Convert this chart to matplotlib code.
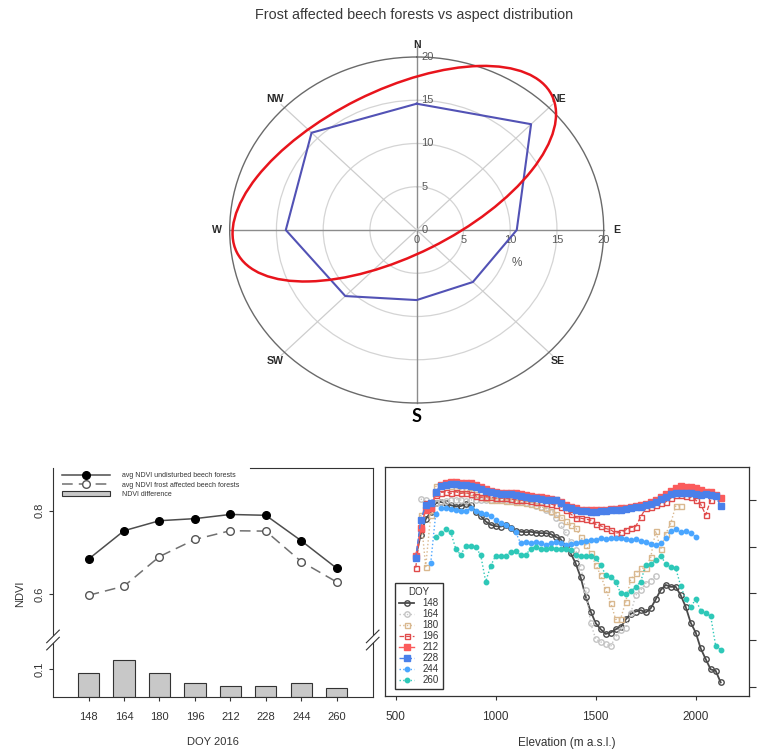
import numpy as np
import matplotlib
matplotlib.use("Agg")
import matplotlib.pyplot as plt
from matplotlib.patches import Ellipse, Patch, Polygon
from matplotlib.lines import Line2D

plt.rcParams['font.family'] = ['Liberation Sans', 'DejaVu Sans']

# ---------------- data ----------------
title_text = "Frost affected beech forests vs aspect distribution"
directions = ['N', 'NE', 'E', 'SE', 'S', 'SW', 'W', 'NW']
aspect_pct = [14.6, 17.3, 10.7, 8.5, 8.1, 10.8, 14.0, 15.9]
ring_ticks = [0, 5, 10, 15, 20]

doy = [148, 164, 180, 196, 212, 228, 244, 260]
ndvi_undisturbed = [0.684, 0.752, 0.776, 0.781, 0.791, 0.789, 0.728, 0.662]
ndvi_frost = [0.597, 0.619, 0.690, 0.731, 0.752, 0.751, 0.678, 0.629]
legend_left = ["avg NDVI undisturbed beech forests",
               "avg NDVI frost affected beech forests",
               "NDVI difference"]

elevation = [600, 625, 650, 675, 700, 725, 750, 775, 800, 825, 850, 875, 900,
             925, 950, 975, 1000, 1025, 1050, 1075, 1100, 1125, 1150, 1175,
             1200, 1225, 1250, 1275, 1300, 1325, 1350, 1375, 1400, 1425, 1450,
             1475, 1500, 1525, 1550, 1575, 1600, 1625, 1650, 1675, 1700, 1725,
             1750, 1775, 1800, 1825, 1850, 1875, 1900, 1925, 1950, 1975, 2000,
             2025, 2050, 2075, 2100, 2125]

ndvi_148 = [0.677, 0.726, 0.759, 0.774, 0.793, 0.796, 0.793, 0.789, 0.786, 0.787,
            0.791, 0.789, 0.775, 0.766, 0.754, 0.747, 0.744, 0.743, 0.746, 0.739,
            0.734, 0.732, 0.731, 0.732, 0.730, 0.729, 0.729, 0.727, 0.721, 0.716,
            0.701, 0.686, 0.664, 0.634, 0.593, 0.561, 0.536, 0.523, 0.513, 0.516,
            0.523, 0.527, 0.544, 0.556, 0.561, 0.564, 0.559, 0.568, 0.587, 0.607,
            0.618, 0.614, 0.614, 0.596, 0.571, 0.537, 0.516, 0.482, 0.459, 0.437,
            0.434, 0.409]
ndvi_164 = [0.802, 0.799, 0.793, 0.794, 0.796, 0.798, 0.799, 0.801, 0.800, 0.798,
            0.800, 0.801, 0.799, 0.800, 0.799, 0.800, 0.799, 0.799, 0.798, 0.797,
            0.796, 0.794, 0.791, 0.788, 0.784, 0.779, 0.774, 0.762, 0.746, 0.731,
            0.711, 0.693, 0.657, 0.607, 0.536, 0.502, 0.496, 0.491, 0.487, 0.507,
            0.521, 0.525, 0.557, 0.596, 0.607, 0.621, 0.627, 0.638]
ndvi_180 = [0.768, 0.657, 0.768, 0.829, 0.832, 0.832, 0.830, 0.825, 0.823, 0.821,
            0.818, 0.813, 0.807, 0.804, 0.801, 0.800, 0.799, 0.798, 0.797, 0.796,
            0.795, 0.793, 0.791, 0.789, 0.786, 0.782, 0.777, 0.771, 0.764, 0.754,
            0.746, 0.741, 0.721, 0.704, 0.686, 0.661, 0.639, 0.609, 0.580, 0.544,
            0.546, 0.582, 0.630, 0.643, 0.654, 0.654, 0.677, 0.734, 0.694, 0.727,
            0.750, 0.787, 0.788]
ndvi_196 = [0.655, 0.737, 0.793, 0.782, 0.811, 0.816, 0.818, 0.814, 0.818, 0.814,
            0.816, 0.813, 0.809, 0.806, 0.807, 0.806, 0.804, 0.804, 0.804, 0.802,
            0.801, 0.800, 0.799, 0.798, 0.796, 0.795, 0.794, 0.791, 0.789, 0.786,
            0.779, 0.770, 0.762, 0.761, 0.759, 0.757, 0.748, 0.745, 0.739, 0.736,
            0.729, 0.731, 0.736, 0.741, 0.743, 0.764, 0.782, 0.786, 0.789, 0.793,
            0.796, 0.804, 0.811, 0.811, 0.809, 0.806, 0.800, 0.791, 0.768, 0.800]
ndvi_212 = [0.679, 0.741, 0.779, 0.782, 0.814, 0.832, 0.836, 0.838, 0.838, 0.837,
            0.836, 0.836, 0.832, 0.827, 0.823, 0.820, 0.818, 0.816, 0.816, 0.816,
            0.814, 0.813, 0.811, 0.809, 0.807, 0.806, 0.804, 0.803, 0.801, 0.796,
            0.789, 0.785, 0.782, 0.779, 0.779, 0.778, 0.778, 0.778, 0.779, 0.781,
            0.781, 0.782, 0.783, 0.785, 0.787, 0.789, 0.792, 0.795, 0.800, 0.806,
            0.813, 0.820, 0.825, 0.829, 0.827, 0.827, 0.825, 0.821, 0.818, 0.818,
            0.811, 0.804]
ndvi_228 = [0.675, 0.757, 0.789, 0.793, 0.818, 0.830, 0.832, 0.834, 0.834, 0.832,
            0.832, 0.831, 0.827, 0.823, 0.820, 0.818, 0.814, 0.813, 0.813, 0.812,
            0.811, 0.809, 0.807, 0.805, 0.804, 0.802, 0.801, 0.800, 0.799, 0.794,
            0.786, 0.782, 0.779, 0.776, 0.776, 0.775, 0.775, 0.776, 0.776, 0.779,
            0.779, 0.779, 0.780, 0.782, 0.784, 0.786, 0.789, 0.791, 0.796, 0.802,
            0.807, 0.813, 0.814, 0.816, 0.816, 0.814, 0.812, 0.811, 0.813, 0.810,
            0.808, 0.787]
ndvi_244 = [0.664, 0.770, 0.782, 0.782, 0.781, 0.779, 0.777, 0.777, 0.782, 0.777,
            0.773, 0.770, 0.766, 0.757, 0.751, 0.746, 0.739, 0.731, 0.707, 0.711,
            0.707, 0.711, 0.707, 0.704, 0.707, 0.711, 0.707, 0.704, 0.705, 0.707,
            0.711, 0.712, 0.714, 0.714, 0.718, 0.716, 0.718, 0.719, 0.718, 0.716,
            0.714, 0.716, 0.712, 0.711, 0.705, 0.704, 0.707, 0.718, 0.734, 0.737,
            0.731, 0.734, 0.729, 0.721]
ndvi_260 = [0.721, 0.729, 0.738, 0.731, 0.696, 0.682, 0.702, 0.702, 0.699, 0.682,
            0.625, 0.659, 0.681, 0.680, 0.679, 0.689, 0.690, 0.682, 0.682, 0.696,
            0.700, 0.696, 0.695, 0.698, 0.695, 0.695, 0.695, 0.693, 0.682, 0.681,
            0.681, 0.679, 0.676, 0.661, 0.639, 0.636, 0.625, 0.600, 0.598, 0.604,
            0.614, 0.625, 0.661, 0.662, 0.671, 0.681, 0.663, 0.656, 0.654, 0.616,
            0.587, 0.571, 0.587, 0.563, 0.557, 0.551, 0.487, 0.479]

# (label, first elevation index, values)
doy_series = [("148", 0, ndvi_148), ("164", 1, ndvi_164), ("180", 1, ndvi_180),
              ("196", 0, ndvi_196), ("212", 0, ndvi_212), ("228", 0, ndvi_228),
              ("244", 3, ndvi_244), ("260", 4, ndvi_260)]

# ---------------- figure ----------------
W, H = 762, 752
fig = plt.figure(figsize=(W / 100, H / 100), dpi=100)
fig.patch.set_facecolor('white')


def px_box(left, top, right, bottom):
    """Axes rectangle from pixel edges (origin top-left)."""
    return [left / W, 1 - bottom / H, (right - left) / W, (bottom - top) / H]


def fx(x):
    return x / W


def fy(y):
    return 1 - y / H


# ---------- polar aspect plot ----------
fig.text(fx(414), fy(15), title_text, ha='center', va='center',
         fontsize=10.4, color='#3a3a3a')

axp = fig.add_axes(px_box(229.7, 57, 603.7, 403), projection='polar')
axp.set_aspect('auto')
axp.set_theta_zero_location('N')
axp.set_theta_direction(-1)
axp.set_ylim(0, 20)
axp.set_xticks([])
axp.set_yticks([5, 10, 15])
axp.set_yticklabels([])
axp.yaxis.grid(True, color='#d4d4d4', lw=0.9)
axp.xaxis.grid(False)
axp.spines['polar'].set_color('#6a6a6a')
axp.spines['polar'].set_linewidth(1.0)

theta = np.deg2rad(np.arange(len(directions)) * 45.0)
for k, ang in enumerate(theta):
    if k % 2 == 0:
        r_end = 21.3 if k == 0 else 20
        axp.plot([ang, ang], [0, r_end], color='#8c8c8c', lw=1.0,
                 clip_on=False, zorder=2)
    else:
        axp.plot([ang, ang], [0, 20.5], color='#cdcdcd', lw=0.9,
                 clip_on=False, zorder=2)

axp.plot(np.append(theta, theta[0]), aspect_pct + [aspect_pct[0]],
         color='#5252b5', lw=1.5, zorder=4, clip_on=False)

for name, ang in zip(directions, theta):
    if name == 'S':
        axp.text(ang, 21.6, name, ha='center', va='center', fontsize=13,
                 fontweight='bold', color='black', family='Lato', clip_on=False)
    else:
        axp.text(ang, 21.4, name, ha='center', va='center', fontsize=7.6,
                 fontweight='bold', color='#2a2a2a', clip_on=False)

for v in ring_ticks:
    axp.annotate(str(v), (0, v), xytext=(3.5, 0), textcoords='offset points',
                 ha='left', va='center', fontsize=8, color='#5a5a5a')
    axp.annotate(str(v), (np.pi / 2, v), xytext=(0, -7.5),
                 textcoords='offset points', ha='center', va='center',
                 fontsize=8, color='#5a5a5a')
fig.text(fx(516.7), fy(263), '%', ha='center', va='center', fontsize=8.5,
         color='#5a5a5a')

ell = Ellipse((394.3 / 100, (H - 173.7) / 100), width=3.52, height=1.65,
              angle=26.5, transform=fig.dpi_scale_trans, fill=False,
              edgecolor='#e8141c', lw=1.8, zorder=10)
fig.add_artist(ell)

# ---------- NDVI by DOY with broken axis ----------
spine_col = '#333333'
ax_up = fig.add_axes(px_box(53, 468, 372.7, 640))
ax_lo = fig.add_axes(px_box(53, 640, 372.7, 697))
for a in (ax_up, ax_lo):
    a.set_xlim(131.9, 276.3)
    for s in a.spines.values():
        s.set_color(spine_col)
        s.set_linewidth(0.8)
ax_up.set_ylim(0.4897, 0.9025)
ax_lo.set_ylim(0, 0.2058)
ax_up.spines['top'].set_visible(False)
ax_up.spines['bottom'].set_visible(False)
ax_lo.spines['top'].set_visible(False)
ax_up.plot([(250 - 53) / 319.7, 1], [1, 1], transform=ax_up.transAxes,
           color=spine_col, lw=0.8, clip_on=False)

ax_up.plot(doy, ndvi_undisturbed, '-o', color='#4d4d4d', lw=1.1,
           mfc='black', mec='black', ms=5.5, zorder=3)
ax_up.plot(doy, ndvi_frost, 'o', ls=(0, (7, 4)), color='#707070', lw=1.1,
           mfc='white', mec='#555555', ms=5.5, zorder=3)
ndvi_diff = np.array(ndvi_undisturbed) - np.array(ndvi_frost)
ax_lo.bar(doy, ndvi_diff, width=9.6, color='#c8c8c8', edgecolor='#333333',
          lw=0.8)

ax_up.set_xticks([])
ax_up.set_yticks([0.6, 0.8])
ax_up.set_yticklabels(['0.6', '0.8'], rotation=90, va='center')
ax_lo.set_yticks([0.1])
ax_lo.set_yticklabels(['0.1'], rotation=90, va='center')
ax_lo.set_xticks(doy)
ax_lo.set_xticklabels([str(d) for d in doy])
for a in (ax_up, ax_lo):
    a.tick_params(axis='y', length=3, width=0.8, color=spine_col, pad=3,
                  labelsize=8, labelcolor='#333333')
    a.tick_params(axis='x', length=3, width=0.8, color=spine_col, pad=8,
                  labelsize=8, labelcolor='#333333')
fig.text(fx(20), fy(594), 'NDVI', rotation=90, ha='center', va='center',
         fontsize=8, color='#333333')
fig.text(fx(213), fy(741.7), 'DOY 2016', ha='center', va='center',
         fontsize=8, color='#333333')

leg_handles = [
    Line2D([], [], color='#4d4d4d', lw=1.1, marker='o', mfc='black',
           mec='black', ms=5.5),
    Line2D([], [], color='#707070', lw=1.1, ls=(0, (7, 4)), marker='o',
           mfc='white', mec='#555555', ms=5.5),
    Patch(facecolor='#c8c8c8', edgecolor='#333333', lw=0.8),
]
leg1 = ax_up.legend(leg_handles, legend_left, loc='upper left',
                    bbox_to_anchor=(0.028, 0.975), fontsize=5, frameon=False,
                    borderpad=0, handlelength=6.9, handletextpad=1.7,
                    labelspacing=0.35, borderaxespad=0)
for t in leg1.get_texts():
    t.set_color('#333333')

# break marks on both vertical axes
for xc in (53, 372.7):
    yc, h, d = 640, 6.3, 3.6
    p1 = [(xc - h, yc - d + h), (xc + h, yc - d - h)]
    p2 = [(xc - h, yc + d + h), (xc + h, yc + d - h)]
    poly = Polygon([(fx(p1[0][0]), fy(p1[0][1])), (fx(p1[1][0]), fy(p1[1][1])),
                    (fx(p2[1][0]), fy(p2[1][1])), (fx(p2[0][0]), fy(p2[0][1]))],
                   closed=True, facecolor='white', edgecolor='none',
                   transform=fig.transFigure, zorder=20)
    fig.add_artist(poly)
    for p in (p1, p2):
        fig.add_artist(Line2D([fx(p[0][0]), fx(p[1][0])],
                              [fy(p[0][1]), fy(p[1][1])], color=spine_col,
                              lw=0.8, transform=fig.transFigure, zorder=21))

# ---------- NDVI profiles along elevation ----------
axr = fig.add_axes(px_box(385, 466.7, 749.3, 696))
axr.set_xlim(446.5, 2268)
axr.set_ylim(0.380, 0.8714)
for s in axr.spines.values():
    s.set_color(spine_col)
    s.set_linewidth(0.9)

styles = {
    "148": dict(color='#4a4a4a', ls='-', lw=1.3, marker='o', mfc='none',
                mec='#4a4a4a', ms=3.9, mew=1.0),
    "164": dict(color='#c4c4c4', ls=':', lw=1.0, marker='o', mfc='none',
                mec='#c4c4c4', ms=3.9, mew=1.0),
    "180": dict(color='#d9b88f', ls=':', lw=1.0, marker='s', mfc='none',
                mec='#d9b88f', ms=3.6, mew=1.0),
    "196": dict(color='#e04a4a', ls='--', lw=0.9, marker='s', mfc='none',
                mec='#e04a4a', ms=3.6, mew=1.0),
    "212": dict(color='#fb5b5b', ls='-', lw=1.0, marker='s', mfc='#fb5b5b',
                mec='#fb5b5b', ms=4.0),
    "228": dict(color='#4a80ea', ls='--', lw=1.0, marker='s', mfc='#4a80ea',
                mec='#4a80ea', ms=4.0),
    "244": dict(color='#4aa6ff', ls=':', lw=1.0, marker='o', mfc='#4aa6ff',
                mec='#4aa6ff', ms=3.2),
    "260": dict(color='#2ec8b8', ls=':', lw=1.0, marker='o', mfc='#2ec8b8',
                mec='#2ec8b8', ms=3.2),
}
handles_r = []
for label, start, vals in doy_series:
    xs = elevation[start:start + len(vals)]
    ln, = axr.plot(xs, vals, label=label, **styles[label])
    handles_r.append(ln)

axr.set_xticks([500, 1000, 1500, 2000])
axr.tick_params(axis='x', length=3, width=0.8, color=spine_col, pad=8,
                labelsize=8.5, labelcolor='#333333')
axr.yaxis.tick_right()
axr.set_yticks([0.4, 0.5, 0.6, 0.7, 0.8])
axr.set_yticklabels([])
axr.tick_params(axis='y', length=5, width=0.8, color=spine_col)
fig.text(fx(567), fy(743), 'Elevation (m a.s.l.)', ha='center', va='center',
         fontsize=8.5, color='#333333')

leg2 = axr.legend(handles=handles_r, title='DOY', loc='lower left',
                  bbox_to_anchor=(0.0275, 0.0305), fontsize=7,
                  title_fontsize=7, frameon=True, fancybox=False,
                  edgecolor='#333333', framealpha=1, borderpad=0.4,
                  labelspacing=0.1, handlelength=1.6, handletextpad=0.8,
                  borderaxespad=0)
leg2.get_frame().set_linewidth(1.0)
for t in leg2.get_texts():
    t.set_color('#333333')
leg2.get_title().set_color('#333333')

fig.savefig('out.png', dpi=100, facecolor='white')
